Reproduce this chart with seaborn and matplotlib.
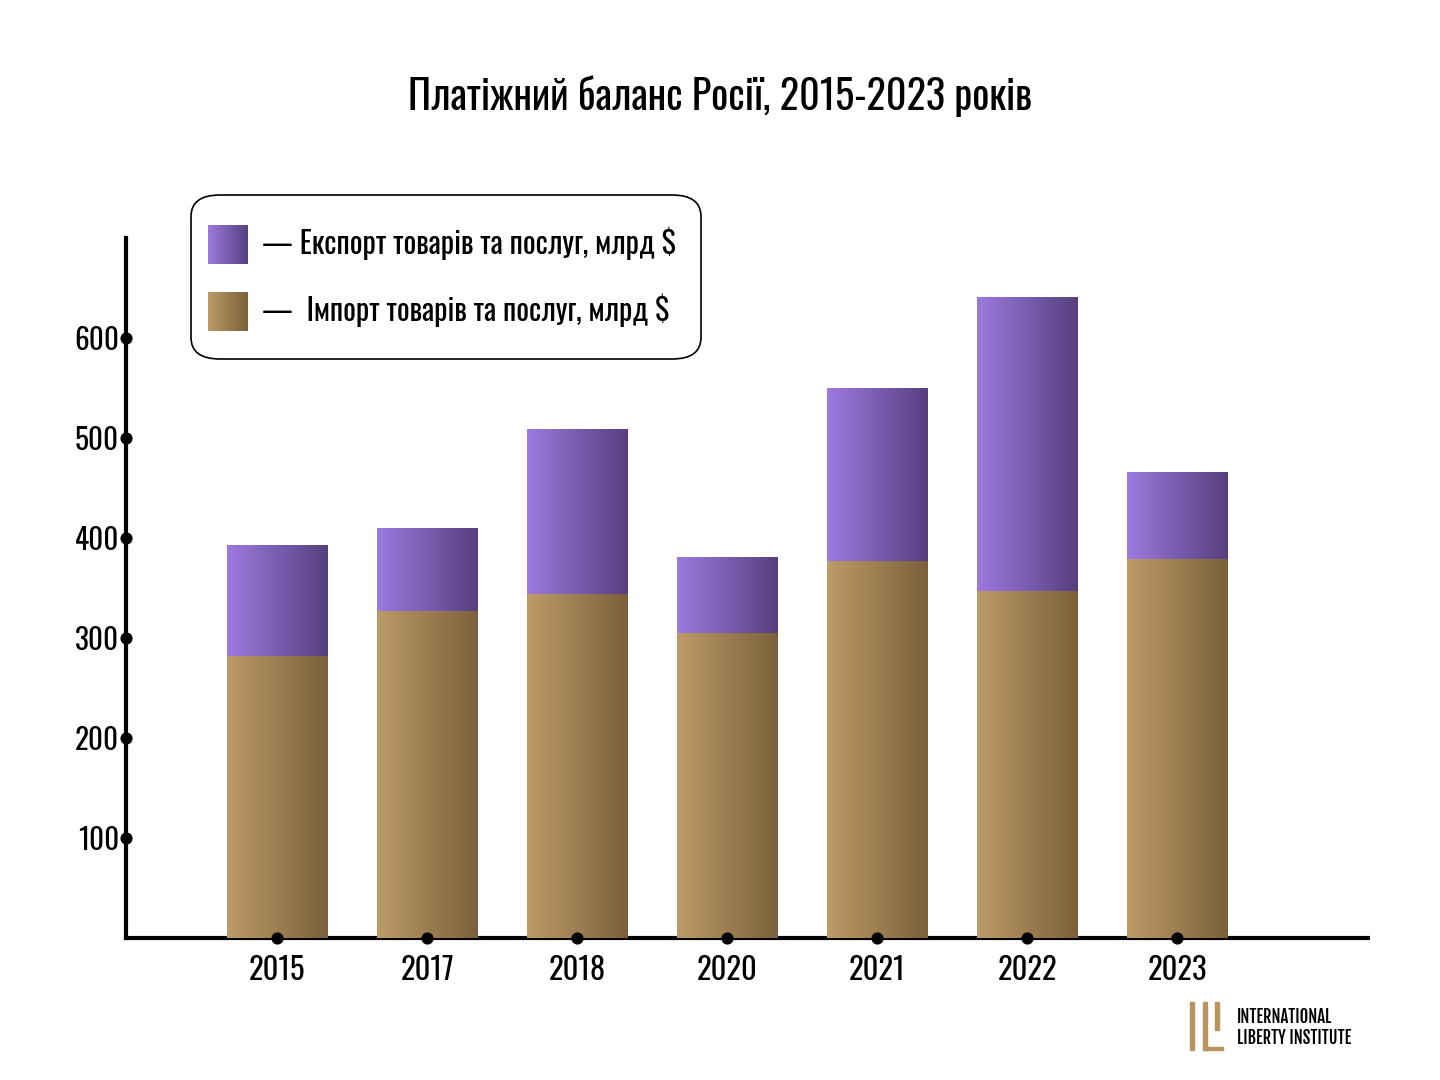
import numpy as np
import pandas as pd
import matplotlib
matplotlib.use('Agg')
import matplotlib.pyplot as plt
import seaborn as sns
from matplotlib.colors import LinearSegmentedColormap
from matplotlib.patches import FancyBboxPatch, Rectangle

# --- данные ---
years = ['2015', '2017', '2018', '2020', '2021', '2022', '2023']
export_vals = [393, 410, 509, 381, 550, 641, 466]
import_vals = [282, 327, 344, 305, 377, 347, 379]
y_ticks = [100, 200, 300, 400, 500, 600]

title = 'Платіжний баланс Росії, 2015-2023 років'
export_label = '— Експорт товарів та послуг, млрд $'
import_label = '—  Імпорт товарів та послуг, млрд $'

export_cmap = LinearSegmentedColormap.from_list('exp', ['#9d7ae0', '#573f7e'])
import_cmap = LinearSegmentedColormap.from_list('imp', ['#bd9b67', '#7b603b'])

sns.set_style('white')
plt.rcParams['font.family'] = ['Oswald', 'DejaVu Sans']
plt.rcParams['text.color'] = 'black'
plt.rcParams['xtick.color'] = 'black'
plt.rcParams['ytick.color'] = 'black'

df = pd.DataFrame({'year': years, 'export': export_vals, 'import': import_vals})

fig = plt.figure(figsize=(14.4, 10.8), dpi=100)
ax = fig.add_axes([126 / 1440, (1080 - 938) / 1080, (1368 - 126) / 1440, 700 / 1080])

sns.barplot(data=df, x='year', y='export', color='#7d5fb0', width=0.667, ax=ax, zorder=2)
sns.barplot(data=df, x='year', y='import', color='#9c7f52', width=0.667, ax=ax, zorder=3)

# градиентная заливка столбцов
grad = np.linspace(0, 1, 256).reshape(1, -1)
n = len(years)
for i, patch in enumerate(ax.patches):
    cmap = export_cmap if i < n else import_cmap
    x0, y0 = patch.get_x(), patch.get_y()
    w, h = patch.get_width(), patch.get_height()
    patch.set_facecolor('none')
    patch.set_edgecolor('none')
    im = ax.imshow(grad, cmap=cmap, aspect='auto', extent=[x0, x0 + w, y0, y0 + h],
                   zorder=2 if i < n else 3, interpolation='bilinear')
    im.set_clip_path(patch)

ax.set_xlim(-1.007, 7.27)
ax.set_ylim(0, 700)

sns.despine(ax=ax)
for side in ['left', 'bottom']:
    ax.spines[side].set_linewidth(3)
    ax.spines[side].set_color('black')

ax.set_yticks(y_ticks)
ax.set_yticklabels([str(t) for t in y_ticks], fontsize=21)
ax.set_xticks(range(n))
ax.set_xticklabels(years, fontsize=22)
ax.tick_params(axis='x', length=0, pad=12)
ax.tick_params(axis='y', length=0, pad=5)
ax.set_xlabel('')
ax.set_ylabel('')

# точки на осях
ax.scatter([-1.007] * len(y_ticks), y_ticks, s=60, color='black', zorder=5, clip_on=False)
ax.scatter(range(n), [0] * n, s=60, color='black', zorder=5, clip_on=False)

fig.text(720 / 1440, 1 - 96 / 1080, title, ha='center', va='center', fontsize=29)

# легенда
box = FancyBboxPatch((191 / 1440, 1 - 359 / 1080), 510 / 1440, 164 / 1080,
                     boxstyle='round,pad=0,rounding_size=0.02', transform=fig.transFigure,
                     facecolor='white', edgecolor='black', linewidth=1.2, zorder=10)
fig.patches.append(box)
for cmap, ytop, label in [(export_cmap, 225, export_label),
                          (import_cmap, 292, import_label)]:
    lax = fig.add_axes([208 / 1440, 1 - (ytop + 39) / 1080, 39 / 1440, 39 / 1080], zorder=11)
    lax.imshow(grad, cmap=cmap, aspect='auto', interpolation='bilinear')
    lax.axis('off')
    fig.text(262 / 1440, 1 - (ytop + 18) / 1080, label, ha='left', va='center',
             fontsize=21.5, zorder=12)

# логотип
gold = '#b8955e'
fig.add_artist(Rectangle((1190 / 1440, 1 - 1050 / 1080), 4 / 1440, 48 / 1080,
                         transform=fig.transFigure, color=gold))
fig.add_artist(Rectangle((1203 / 1440, 1 - 1050 / 1080), 4 / 1440, 48 / 1080,
                         transform=fig.transFigure, color=gold))
fig.add_artist(Rectangle((1203 / 1440, 1 - 1050 / 1080), 20 / 1440, 3 / 1080,
                         transform=fig.transFigure, color=gold))
fig.add_artist(Rectangle((1215 / 1440, 1 - 1030 / 1080), 4 / 1440, 28 / 1080,
                         transform=fig.transFigure, color=gold))
fig.text(1237 / 1440, 1 - 1017 / 1080, 'INTERNATIONAL', ha='left', va='center',
         fontsize=12, family=['Fjalla One', 'DejaVu Sans'])
fig.text(1237 / 1440, 1 - 1038 / 1080, 'LIBERTY INSTITUTE', ha='left', va='center',
         fontsize=12, family=['Fjalla One', 'DejaVu Sans'])

fig.savefig('out.png', dpi=100, facecolor='white')
plt.close(fig)
